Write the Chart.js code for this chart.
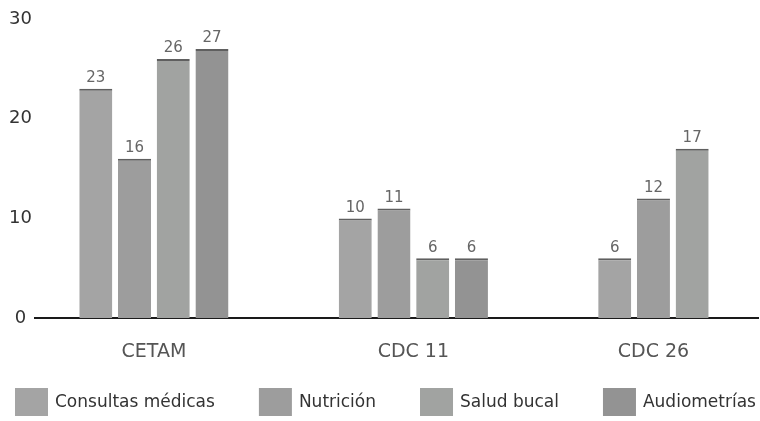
<!DOCTYPE html>
<html>
<head>
<meta charset="utf-8">
<script src="https://cdn.jsdelivr.net/npm/chart.js@4.4.0/dist/chart.umd.min.js"></script>
<style>
  html, body { margin: 0; padding: 0; background: #ffffff; }
  #wrap { width: 760px; height: 421px; position: relative; }
</style>
</head>
<body>
<div id="wrap"><canvas id="chart"></canvas></div>
<script>
// Services delivered per centre
const categories = ['CETAM', 'CDC 11', 'CDC 26'];
const seriesNames = ['Consultas médicas', 'Nutrición', 'Salud bucal', 'Audiometrías'];
const consultasMedicas = [23, 10, 6];
const nutricion = [16, 11, 12];
const saludBucal = [26, 6, 17];
const audiometrias = [27, 6, null];
const yTicks = [0, 10, 20, 30];

const seriesValues = [consultasMedicas, nutricion, saludBucal, audiometrias];
const seriesColors = ['#a4a4a4', '#9d9d9d', '#a1a3a1', '#939393'];
const FONT = "'DejaVu Sans', sans-serif";

// The x scale counts in bar slots: each bar takes one slot, centres without
// a value take no slot, and consecutive centres are separated by GROUP_GAP slots.
const GROUP_GAP = 2.7;
const barCounts = categories.map((_, g) => seriesValues.filter(s => s[g] != null).length);
const groupCenters = [];
barCounts.forEach((n, g) => {
  groupCenters.push(g === 0 ? 0 : groupCenters[g - 1] + (barCounts[g - 1] + n) / 2 + GROUP_GAP);
});
function slotOf(seriesIdx, g) {
  const present = seriesValues.map((s, i) => (s[g] != null ? i : -1)).filter(i => i >= 0);
  return groupCenters[g] + present.indexOf(seriesIdx) - (barCounts[g] - 1) / 2;
}

const datasets = seriesValues.map((vals, si) => ({
  label: seriesNames[si],
  data: categories
    .map((_, g) => (vals[g] == null ? null : { x: slotOf(si, g), y: vals[g] }))
    .filter(Boolean),
  backgroundColor: seriesColors[si],
  borderColor: '#5f5f5f',
  borderWidth: { top: 2, right: 0, bottom: 0, left: 0 },
  borderSkipped: 'start',
  grouped: false,
  categoryPercentage: 1,
  barPercentage: 0.853
}));

// Value printed above every bar
const valueLabels = {
  id: 'valueLabels',
  afterDatasetsDraw(chart) {
    const ctx = chart.ctx;
    ctx.save();
    ctx.font = '15px ' + FONT;
    ctx.fillStyle = '#666666';
    ctx.textAlign = 'center';
    ctx.textBaseline = 'bottom';
    chart.data.datasets.forEach((ds, di) => {
      chart.getDatasetMeta(di).data.forEach((bar, i) => {
        ctx.fillText(String(ds.data[i].y), bar.x, bar.y - 3);
      });
    });
    ctx.restore();
  }
};

// Legend row along the bottom edge
const bottomLegend = {
  id: 'bottomLegend',
  afterDraw(chart) {
    const ctx = chart.ctx;
    const boxW = 33, boxH = 28, textGap = 7, itemGap = 44;
    const top = 388;
    ctx.save();
    ctx.font = '17px ' + FONT;
    ctx.textBaseline = 'middle';
    ctx.textAlign = 'left';
    let x = 15;
    chart.data.datasets.forEach(ds => {
      ctx.fillStyle = ds.backgroundColor;
      ctx.fillRect(x, top, boxW, boxH);
      ctx.fillStyle = '#333333';
      ctx.fillText(ds.label, x + boxW + textGap, top + boxH / 2 + 1);
      x += boxW + textGap + ctx.measureText(ds.label).width + itemGap;
    });
    ctx.restore();
  }
};

new Chart(document.getElementById('chart'), {
  type: 'bar',
  data: { datasets },
  options: {
    responsive: true,
    maintainAspectRatio: false,
    animation: false,
    layout: { padding: { top: 19, right: 2, bottom: 36, left: 0 } },
    plugins: {
      legend: { display: false },
      tooltip: { enabled: false }
    },
    scales: {
      x: {
        type: 'linear',
        offset: false,
        min: -3.07,
        max: 15.6,
        grid: { display: false, drawTicks: false },
        border: { display: true, color: '#1a1a1a', width: 2 },
        afterBuildTicks(scale) {
          scale.ticks = groupCenters.map(v => ({ value: v }));
        },
        ticks: {
          autoSkip: false,
          maxRotation: 0,
          padding: 22,
          color: '#555555',
          font: { family: FONT, size: 19 },
          callback: (value, index) => categories[index]
        }
      },
      y: {
        min: 0,
        max: 30,
        grid: { display: false, drawTicks: false },
        border: { display: false },
        afterFit(scale) { scale.width = 35; },
        afterBuildTicks(scale) {
          scale.ticks = yTicks.map(v => ({ value: v }));
        },
        ticks: {
          padding: 3,
          crossAlign: 'center',
          color: '#333333',
          font: { family: FONT, size: 18 }
        }
      }
    }
  },
  plugins: [valueLabels, bottomLegend]
});
</script>
</body>
</html>
